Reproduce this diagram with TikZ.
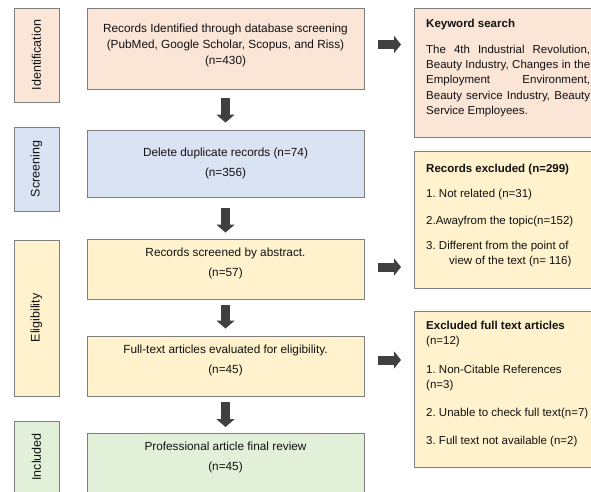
\documentclass[tikz,border=0pt]{standalone}
\usepackage{fontspec}
\setmainfont{Liberation Sans}
\frenchspacing
\usetikzlibrary{arrows.meta}
\definecolor{cpeach}{HTML}{FBE5D6}
\definecolor{cblue}{HTML}{DAE3F3}
\definecolor{cyellow}{HTML}{FFF2CC}
\definecolor{cgreen}{HTML}{E2F0D9}
\definecolor{cborder}{HTML}{7F7F7F}
\definecolor{carrow}{HTML}{404040}
\definecolor{ctext}{HTML}{111111}
\tikzset{
  boxbase/.style={draw=cborder, line width=0.9pt, inner sep=0pt, rectangle},
  mainbox/.style={boxbase, minimum width=277pt, align=center, text=ctext,
    font=\fontsize{11.8}{16}\selectfont},
  phasebox/.style={boxbase, rotate=90, minimum height=45pt, text=ctext,
    font=\fontsize{12.5}{15}\selectfont},
  sidebox/.style={boxbase, minimum width=177pt},
  sidetext/.style={anchor=north west, inner sep=0pt, align=left, text=ctext,
    font=\fontsize{11.5}{15.3}\selectfont},
  plaintext/.style={inner sep=0pt, align=center, text=ctext,
    font=\fontsize{11.8}{16}\selectfont},
  downarrow/.style={draw=carrow, line width=9pt,
    -{Triangle[length=8pt,width=18pt]}},
  rightarrow/.style={draw=carrow, line width=9pt,
    -{Triangle[length=7pt,width=17pt]}},
}
\begin{document}
\begin{tikzpicture}[x=1pt,y=-1pt]
\useasboundingbox (0,0) rectangle (591,492);
\clip (0,0) rectangle (591,492);
\fill[white] (0,0) rectangle (591,492);

% phase labels
\node[phasebox, fill=cpeach, minimum width=94pt] (p1) at (36.5,55) {Identification};
\node[phasebox, fill=cblue, minimum width=84pt] (p2) at (36.5,169) {Screening};
\node[phasebox, fill=cyellow, minimum width=156pt] (p3) at (36.5,318) {Eligibility};
\node[phasebox, fill=cgreen, minimum width=72pt] (p4) at (36.5,457) {Included};

% main boxes
\node[mainbox, fill=cpeach, minimum height=81pt] (b1) at (225.5,48.5) {};
\node[plaintext] (b1t) at (225.5,45)
  {Records Identified through database screening\\(PubMed, Google Scholar, Scopus, and Riss)\\(n=430)};
\node[mainbox, fill=cblue, minimum height=67pt] (b2) at (225.5,163.5) {};
\node[plaintext] (b2t) at (225.5,163) {Delete duplicate records (n=74)\\[4pt](n=356)};
\node[mainbox, fill=cyellow, minimum height=60pt] (b3) at (225.5,269) {};
\node[plaintext] (b3t) at (225.5,263.5) {Records screened by abstract.\\[4pt](n=57)};
\node[mainbox, fill=cyellow, minimum height=60pt] (b4) at (225.5,366) {};
\node[plaintext] (b4t) at (225.5,360.5) {Full-text articles evaluated for eligibility.\\[4pt](n=45)};
\node[mainbox, fill=cgreen, minimum height=70pt, anchor=north] (b5) at (225.5,433) {};
\node[plaintext] (b5t) at (225.5,457) {Professional article final review\\[4pt](n=45)};

% side boxes
\node[sidebox, fill=cpeach, minimum height=129pt, anchor=north west] (r1) at (414,8) {};
\node[sidebox, fill=cyellow, minimum height=137pt, anchor=north west] (r2) at (414,151) {};
\node[sidebox, fill=cyellow, minimum height=156pt, anchor=north west] (r3) at (414,311) {};

\node[sidetext] (r1t) at (426,19) {\textbf{Keyword search}\\[10.5pt]
\makebox[164pt][s]{The 4th Industrial Revolution,}\\
\makebox[164pt][s]{Beauty Industry, Changes in the}\\
\makebox[164pt][s]{Employment Environment,}\\
\makebox[164pt][s]{Beauty service Industry, Beauty}\\
Service Employees.};

\node[sidetext] (r2t) at (426,164) {\textbf{Records excluded (n=299)}\\[9.7pt]
1. Not related (n=31)\\[11.7pt]
2.Awayfrom the topic(n=152)\\[9.7pt]
3. Different from the point of\\
\hspace*{23pt}view of the text (n= 116)};

\node[sidetext] (r3t) at (426,321) {\textbf{Excluded full text articles}\\
(n=12)\\[13pt]
1. Non-Citable References\\
(n=3)\\[13pt]
2. Unable to check full text(n=7)\\[12pt]
3. Full text not available (n=2)};

% down arrows
\draw[downarrow, shorten <=9pt, shorten >=7pt] (b1) -- (b2);
\draw[downarrow, shorten <=11pt, shorten >=6pt] (b2) -- (b3);
\draw[downarrow, shorten <=6pt, shorten >=7pt] (b3) -- (b4);
\draw[downarrow, shorten <=6pt, shorten >=6pt] (b4) -- (b5);

% right arrows
\draw[rightarrow, shorten <=14pt, shorten >=13pt] ([yshift=4pt]b1.east) -- ([yshift=4pt]b1.east -| r1.west);
\draw[rightarrow, shorten <=14pt, shorten >=13pt] ([yshift=2pt]b3.east) -- ([yshift=2pt]b3.east -| r2.west);
\draw[rightarrow, shorten <=14pt, shorten >=13pt] ([yshift=6pt]b4.east) -- ([yshift=6pt]b4.east -| r3.west);
\end{tikzpicture}
\end{document}
